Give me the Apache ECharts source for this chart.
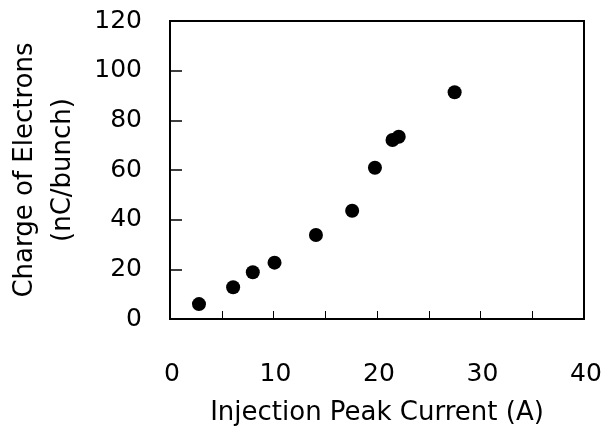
<!DOCTYPE html>
<html>
<head>
<meta charset="utf-8">
<script src="https://cdn.jsdelivr.net/npm/echarts@6/dist/echarts.min.js"></script>
<style>
  html, body { margin: 0; padding: 0; background: #fff; }
  #chart { width: 610px; height: 429px; }
</style>
</head>
<body>
<div id="chart"></div>
<script>
  // injection peak current (A) vs charge (nC/bunch)
  const peakCurrent = [2.8, 6.1, 8.0, 10.1, 14.1, 17.6, 19.8, 21.5, 22.1, 27.5];
  const charge = [6.0, 12.8, 18.8, 22.7, 33.8, 43.6, 60.9, 72.1, 73.4, 91.3];
  const xLabels = [0, 10, 20, 30, 40];

  const points = peakCurrent.map(function (x, i) {
    return [x, charge[i]];
  });

  const fontFamily = '"DejaVu Sans", sans-serif';

  let chart = echarts.init(document.getElementById('chart'));
  chart.setOption({
    animation: false,
    backgroundColor: '#fff',
    grid: {
      left: 170,
      right: 26,
      top: 21,
      bottom: 110,
      outerBoundsMode: 'none',
      containLabel: false,
      show: true,
      borderColor: '#000',
      borderWidth: 2
    },
    xAxis: {
      type: 'value',
      min: 0,
      max: 40,
      interval: 5,
      name: 'Injection Peak Current (A)',
      nameLocation: 'middle',
      nameGap: 81,
      nameTextStyle: { color: '#000', fontSize: 26, fontFamily: fontFamily },
      axisLine: { show: false },
      axisTick: { show: true, inside: true, length: 8, lineStyle: { color: '#000', width: 1 } },
      splitLine: { show: false },
      axisLabel: {
        margin: 43,
        color: '#000',
        fontSize: 25,
        fontFamily: fontFamily,
        padding: [0, 0, 0, 4],
        formatter: function (v) {
          return xLabels.indexOf(v) >= 0 ? String(v) : '';
        }
      }
    },
    yAxis: {
      type: 'value',
      min: 0,
      max: 120,
      interval: 20,
      name: 'Charge of Electrons\n(nC/bunch)',
      nameLocation: 'middle',
      nameGap: 88,
      nameTextStyle: { color: '#000', fontSize: 26, lineHeight: 38, fontFamily: fontFamily },
      axisLine: { show: false },
      axisTick: { show: true, inside: true, length: 12, lineStyle: { color: '#000', width: 1.5 } },
      splitLine: { show: false },
      axisLabel: {
        margin: 28,
        color: '#000',
        fontSize: 25,
        fontFamily: fontFamily,
        padding: [6, 0, 0, 0]
      }
    },
    series: [{
      type: 'scatter',
      data: points,
      symbol: 'circle',
      symbolSize: 14,
      itemStyle: { color: '#000', opacity: 1 }
    }]
  });
</script>
</body>
</html>
